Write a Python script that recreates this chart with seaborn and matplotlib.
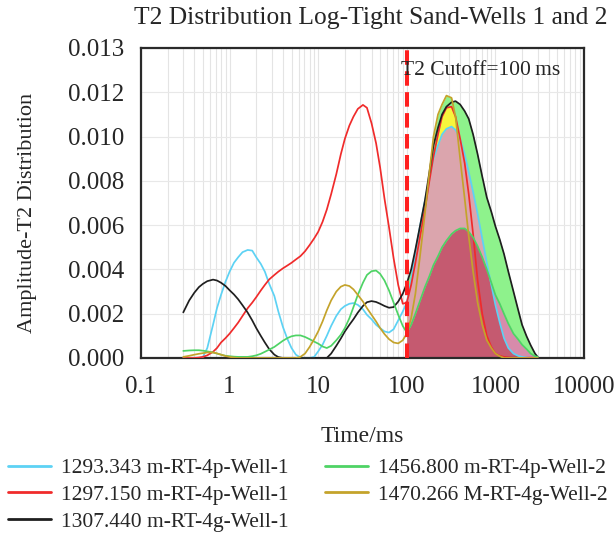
import numpy as np
import pandas as pd
import matplotlib
matplotlib.use("Agg")
import matplotlib.pyplot as plt
from matplotlib.ticker import LogLocator, NullFormatter
import seaborn as sns

# T2 relaxation time bins (ms)
t2_ms = [0.3, 0.35, 0.4, 0.45, 0.5, 0.56, 0.65, 0.72, 0.8, 0.9,
         1, 1.12, 1.25, 1.4, 1.6, 1.8, 2, 2.25, 2.5, 2.8,
         3.2, 3.55, 4, 4.5, 5, 5.6, 6.3, 7.1, 8, 9,
         10, 11.2, 12.5, 14, 16, 18, 20, 22.5, 25, 28,
         32, 35.5, 40, 45, 50, 56, 63, 71, 80, 90,
         100, 112, 125, 140, 160, 180, 200, 225, 250, 280,
         320, 355, 400, 450, 500, 560, 630, 710, 800, 900,
         1000, 1120, 1250, 1400, 1600, 1800, 2000, 2250, 2500, 2800,
         3000]

# Amplitudes per sample depth, in thousandths
amp_1293_343 = [0, 0, 0, 0, 0.05, 0.45, 1.5, 2.25, 2.85, 3.45,
                3.9, 4.3, 4.55, 4.78, 4.88, 4.85, 4.55, 4.25, 3.9, 3.35,
                2.8, 2.1, 1.4, 0.85, 0.45, 0.15, 0.02, 0, 0, 0.05,
                0.3, 0.6, 1.0, 1.45, 1.9, 2.2, 2.35, 2.45, 2.48, 2.4,
                2.2, 1.95, 1.75, 1.5, 1.35, 1.2, 1.15, 1.3, 1.7, 2.1,
                2.5, 3.5, 4.8, 5.9, 7.1, 8.1, 9.0, 9.6, 10.1, 10.35,
                10.45, 10.3, 9.9, 9.2, 8.4, 7.5, 6.5, 5.4, 4.3, 3.3,
                2.4, 1.6, 0.9, 0.45, 0.2, 0.1, 0.05, 0.02, 0, 0,
                0]
amp_1297_150 = [0, 0, 0, 0.02, 0.05, 0.12, 0.28, 0.45, 0.7, 0.9,
                1.1, 1.35, 1.6, 1.9, 2.25, 2.5, 2.75, 3.05, 3.3, 3.55,
                3.75, 3.9, 4.05, 4.18, 4.3, 4.45, 4.6, 4.82, 5.1, 5.4,
                5.7, 6.15, 6.7, 7.4, 8.3, 9.2, 9.9, 10.5, 10.9, 11.25,
                11.43, 11.3, 10.6, 9.7, 8.6, 7.2, 5.9, 4.5, 3.3, 2.45,
                2.5, 3.3, 4.3, 5.4, 6.7, 8.0, 9.1, 10.1, 10.9, 11.3,
                11.35, 10.9, 9.9, 8.8, 7.4, 5.6, 3.5, 2.0, 1.0, 0.5,
                0.2, 0.1, 0.05, 0.02, 0, 0, 0, 0, 0, 0,
                0]
amp_1307_440 = [2.06, 2.6, 2.95, 3.2, 3.35, 3.47, 3.54, 3.5, 3.4, 3.25,
                3.06, 2.87, 2.65, 2.38, 2.05, 1.7, 1.35, 1.0, 0.7, 0.4,
                0.15, 0.04, 0, 0, 0, 0, 0, 0, 0, 0,
                0, 0, 0, 0.2, 0.55, 0.88, 1.2, 1.5, 1.75, 2.05,
                2.35, 2.52, 2.57, 2.53, 2.45, 2.35, 2.27, 2.3, 2.55, 2.9,
                3.36, 4.0, 4.9, 5.9, 7.1, 8.4, 9.6, 10.4, 11.0, 11.35,
                11.55, 11.6, 11.45, 11.15, 10.8, 10.1, 9.2, 8.2, 7.25, 6.6,
                5.95, 5.35, 4.7, 3.9, 3.0, 2.2, 1.5, 0.98, 0.58, 0.2,
                0.05]
amp_1456_800 = [0.32, 0.34, 0.35, 0.35, 0.33, 0.3, 0.25, 0.2, 0.15, 0.1,
                0.08, 0.06, 0.05, 0.05, 0.05, 0.08, 0.12, 0.19, 0.28, 0.38,
                0.5, 0.63, 0.78, 0.9, 0.98, 1.02, 1.02, 0.95, 0.85, 0.74,
                0.65, 0.52, 0.45, 0.55, 0.8, 1.05, 1.35, 1.8, 2.3, 2.85,
                3.4, 3.75, 3.92, 3.95, 3.8, 3.5, 3.05, 2.5, 1.95, 1.45,
                1.15, 1.5, 2.0, 2.55, 3.2, 3.7, 4.2, 4.6, 5.0, 5.3,
                5.6, 5.75, 5.85, 5.85, 5.7, 5.45, 5.05, 4.55, 4.0, 3.4,
                2.85, 2.45, 2.0, 1.55, 1.1, 0.85, 0.6, 0.4, 0.2, 0.08,
                0.05]
amp_1470_266 = [0.05, 0.1, 0.15, 0.19, 0.22, 0.25, 0.25, 0.21, 0.15, 0.09,
                0.05, 0.02, 0, 0, 0, 0, 0, 0, 0, 0,
                0, 0, 0, 0, 0, 0, 0.05, 0.2, 0.5, 0.85,
                1.2, 1.65, 2.15, 2.6, 3.0, 3.22, 3.3, 3.25, 3.1, 2.85,
                2.55, 2.25, 1.95, 1.65, 1.35, 1.08, 0.85, 0.7, 0.66, 0.8,
                1.1, 1.8, 2.9, 4.5, 6.5, 8.4, 10.0, 11.0, 11.45, 11.85,
                11.75, 10.9, 9.0, 7.2, 5.5, 3.9, 2.5, 1.5, 0.8, 0.45,
                0.2, 0.08, 0, 0, 0, 0, 0, 0, 0, 0,
                0]

samples = ["1293.343 m-RT-4p-Well-1", "1297.150 m-RT-4p-Well-1",
           "1307.440 m-RT-4g-Well-1", "1456.800 m-RT-4p-Well-2",
           "1470.266 M-RT-4g-Well-2"]
line_colors = ["#5dd2f4", "#f02b2b", "#1f1f1f", "#4ed365", "#c4a32b"]

cutoff_ms = 100
y_ticks = [0, 0.002, 0.004, 0.006, 0.008, 0.010, 0.012, 0.014]
y_tick_labels = ["0.000", "0.002", "0.004", "0.006", "0.008", "0.010", "0.012", "0.013"]
x_ticks = [0.1, 1, 10, 100, 1000, 10000]
x_tick_labels = ["0.1", "1", "10", "100", "1000", "10000"]

SCALE = 1e-3
series = [amp_1293_343, amp_1297_150, amp_1307_440, amp_1456_800, amp_1470_266]
df = pd.concat(
    [pd.DataFrame({"T2": t2_ms, "amp": np.array(v) * SCALE, "sample": s})
     for s, v in zip(samples, series)],
    ignore_index=True,
)

sns.set_style("white")
plt.rcParams["font.family"] = ["Liberation Serif", "DejaVu Serif"]

fig = plt.figure(figsize=(6.14, 5.36), dpi=100)
ax = fig.add_axes([141 / 614, (536 - 358) / 536, (584 - 141) / 614, (358 - 48) / 536])
ax.set_xscale("log")

# shaded movable-fluid region beyond the cutoff
t = np.array(t2_ms)
m = t >= cutoff_ms
cyan, red, black, green, gold = [np.array(v) * SCALE for v in series]
light_green, yellow = "#8ef28c", "#f7f53c"
pink, mauve, crimson = "#dba5ad", "#d78bab", "#c55a70"
ax.fill_between(t[m], 0, black[m], color=light_green, lw=0, zorder=1)
ax.fill_between(t[m], 0, gold[m], color=light_green, lw=0, zorder=1)
ax.fill_between(t[m], 0, red[m], color=yellow, lw=0, zorder=1)
ax.fill_between(t[m], 0, green[m], color=mauve, lw=0, zorder=1)
ax.fill_between(t[m], 0, cyan[m], color=pink, lw=0, zorder=1)
ax.fill_between(t[m], 0, np.minimum(cyan, green)[m], color=crimson, lw=0, zorder=1)

sns.lineplot(data=df, x="T2", y="amp", hue="sample", hue_order=samples,
             palette=line_colors, estimator=None, lw=1.25, ax=ax, zorder=3)

ax.axvline(cutoff_ms, color="#ff1f1f", lw=2.9, dashes=(3.6, 1.6), zorder=6)
ax.annotate("T2 Cutoff=100\u2009ms", xy=(cutoff_ms, 1), xycoords=("data", "axes fraction"),
            xytext=(-4, -16), textcoords="offset points", fontsize=15.5,
            ha="left", va="center", zorder=7)

ax.set_xlim(0.1, 10000)
ax.set_ylim(0, 0.014)
ax.set_xticks(x_ticks)
ax.set_xticklabels(x_tick_labels)
ax.xaxis.set_minor_locator(LogLocator(base=10, subs=np.arange(2, 10)))
ax.xaxis.set_minor_formatter(NullFormatter())
ax.set_yticks(y_ticks)
ax.set_yticklabels(y_tick_labels)
ax.tick_params(axis="both", which="major", direction="in", length=4, width=1.3,
               labelsize=18, color="#222222")
ax.tick_params(axis="x", which="major", pad=13)
ax.tick_params(axis="y", which="major", pad=12)
ax.tick_params(axis="x", which="minor", length=0)
ax.grid(True, which="both", axis="x", color="#e4e4e4", lw=0.8, zorder=0)
ax.grid(True, which="major", axis="y", color="#e8e8e8", lw=0.8, zorder=0)
ax.set_axisbelow(True)
for sp in ax.spines.values():
    sp.set_linewidth(1.6)
    sp.set_color("#2a2a2a")

ax.set_xlabel("Time/ms", fontsize=17, labelpad=20)
ax.set_ylabel("")
fig.text(28 / 614, 1 - 213 / 536, "Amplitude-T2 Distribution", rotation=90,
         fontsize=16, ha="center", va="center")
fig.text(371 / 614, 1 - 18 / 536, "T2 Distribution Log-Tight Sand-Wells 1 and 2",
         fontsize=18.4, ha="center", va="center")

handles, labels = ax.get_legend_handles_labels()
ax.get_legend().remove()
for h in handles:
    h.set_linewidth(2.0)
fig.legend(handles, labels, ncol=2, loc="upper left",
           bbox_to_anchor=(8 / 614, 1 - 458 / 536), frameon=False, fontsize=15.5,
           handlelength=2.0, handletextpad=0.45, columnspacing=1.7,
           labelspacing=0.32, borderaxespad=0, borderpad=0)

fig.savefig("out.png", dpi=100)
